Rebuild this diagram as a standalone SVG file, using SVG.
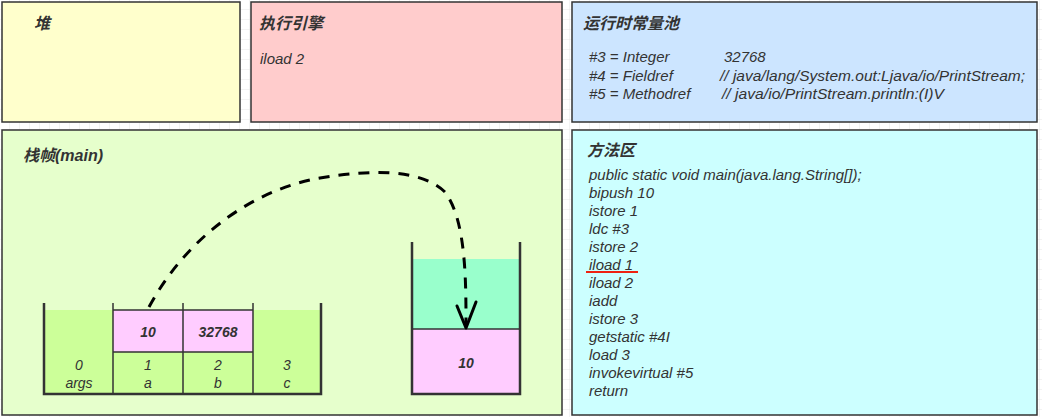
<svg xmlns="http://www.w3.org/2000/svg" width="1042" height="417" viewBox="0 0 1042 417">
<style>
.box{stroke:#333;stroke-width:1.5}
.t{font-family:"Liberation Sans","Noto Sans CJK SC",sans-serif;font-style:italic;fill:#333}
.title{font-size:16px;font-weight:bold}
.code{font-size:15px}
.cell{font-size:14px;text-anchor:middle}
.val{font-size:14px;font-weight:bold;text-anchor:middle}
.wall{stroke:#333;stroke-width:2.5;fill:none}
.div{stroke:#333;stroke-width:1.5;fill:none}
</style>
<defs>
<pattern id="grid" width="10" height="10" patternUnits="userSpaceOnUse">
<path d="M10 0V10M0 10H10" stroke="#e6e6e6" stroke-width="1" fill="none"/>
</pattern>
</defs>
<rect width="1042" height="417" fill="#fff"/>
<rect width="1042" height="417" fill="url(#grid)"/>

<g id="heap">
<rect class="box" x="2" y="2" width="238" height="120" fill="#FFFFCC"/>
<text class="t title" x="34" y="29">堆</text>
</g>

<g id="engine">
<rect class="box" x="251" y="2" width="311" height="120" fill="#FFCCCC"/>
<text class="t title" x="259" y="29">执行引擎</text>
<text class="t code" x="260" y="64">iload 2</text>
</g>

<g id="constpool">
<rect class="box" x="572" y="2" width="465" height="120" fill="#CCE5FF"/>
<text class="t title" x="583" y="29">运行时常量池</text>
<text class="t code" x="589" y="62">#3 = Integer</text>
<text class="t code" x="724" y="62">32768</text>
<text class="t code" x="589" y="81">#4 = Fieldref</text>
<text class="t code" x="720" y="81" textLength="305" lengthAdjust="spacingAndGlyphs">// java/lang/System.out:Ljava/io/PrintStream;</text>
<text class="t code" x="589" y="99">#5 = Methodref</text>
<text class="t code" x="722" y="99" textLength="222" lengthAdjust="spacingAndGlyphs">// java/io/PrintStream.println:(I)V</text>
</g>

<g id="frame">
<rect class="box" x="2" y="130" width="560" height="285" fill="#E6FFCC"/>
<text class="t title" x="23" y="161">栈帧(main)</text>
</g>

<g id="localvars">
<rect x="44" y="310" width="277" height="84" fill="#CCFF99"/>
<rect x="113" y="310" width="140" height="42" fill="#FFCCFF"/>
<path class="div" d="M113 303V394M183 303V394M253 303V394M113 310H253M113 352H253"/>
<path class="wall" d="M44 303V394H321V303"/>
<text class="t val" x="148" y="337">10</text>
<text class="t val" x="218" y="337">32768</text>
<text class="t cell" x="79" y="370">0</text>
<text class="t cell" x="79" y="388">args</text>
<text class="t cell" x="148" y="370">1</text>
<text class="t cell" x="148" y="388">a</text>
<text class="t cell" x="218" y="370">2</text>
<text class="t cell" x="218" y="388">b</text>
<text class="t cell" x="287" y="370">3</text>
<text class="t cell" x="287" y="388">c</text>
</g>

<g id="operandstack">
<rect x="412" y="259" width="108" height="70" fill="#99FFCC"/>
<rect x="412" y="329" width="108" height="65" fill="#FFCCFF"/>
<path class="div" d="M412 329H520"/>
<path class="wall" d="M412 242V394H520V242"/>
<text class="t val" x="466" y="368">10</text>
</g>

<g id="methodarea">
<rect class="box" x="572" y="130" width="465" height="285" fill="#CCFFFF"/>
<text class="t title" x="587" y="156">方法区</text>
<text class="t code" x="589" y="180">public static void main(java.lang.String[]);</text>
<text class="t code" x="589" y="198">bipush 10</text>
<text class="t code" x="589" y="216">istore 1</text>
<text class="t code" x="589" y="234">ldc #3</text>
<text class="t code" x="589" y="252">istore 2</text>
<text class="t code" x="589" y="270">iload 1</text>
<text class="t code" x="589" y="288">iload 2</text>
<text class="t code" x="589" y="306">iadd</text>
<text class="t code" x="589" y="324">istore 3</text>
<text class="t code" x="589" y="342">getstatic #4I</text>
<text class="t code" x="589" y="360">load 3</text>
<text class="t code" x="589" y="378">invokevirtual #5</text>
<text class="t code" x="589" y="396">return</text>
<path d="M586 272H638" stroke="#E21" stroke-width="2" fill="none"/>
</g>

<g id="connectors">
<path d="M149 307C185 240 250 190 320 178C370 170 420 168 445 192C466 220 466 280 466 326" fill="none" stroke="#000" stroke-width="3" stroke-dasharray="11 9"/>
<path d="M457 306L466 328L476 302" fill="none" stroke="#000" stroke-width="3" stroke-linejoin="round" stroke-linecap="round"/>
</g>
</svg>
